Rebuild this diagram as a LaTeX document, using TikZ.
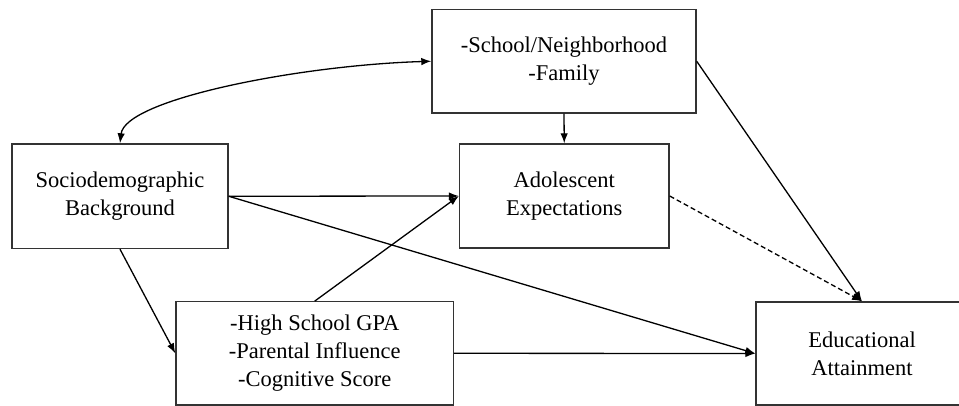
\documentclass[tikz,border=0pt]{standalone}
\usepackage{fontspec}
\setmainfont{Liberation Serif}
\usetikzlibrary{arrows.meta}
\begin{document}
\begin{tikzpicture}[x=1pt,y=-1pt,
  box/.style={draw=black!80, line width=1.4pt, rectangle, inner sep=0pt, align=center,
    font=\fontsize{22.5}{28}\selectfont},
  conn/.style={line width=1.3pt, -{Latex[length=10pt,width=7.5pt]}},
  dconn/.style={conn, dash pattern=on 5pt off 3pt}]
\clip (0,0) rectangle (959,406);
\node[box, minimum width=264pt, minimum height=103.5pt] (top) at (564,61.25) {-School/Neighborhood\\-Family};
\node[box, minimum width=216pt, minimum height=104.5pt] (soc) at (120,196.25) {Sociodemographic\\Background};
\node[box, minimum width=209.5pt, minimum height=104pt] (adol) at (564.25,196) {Adolescent\\Expectations};
\node[box, minimum width=277.5pt, minimum height=103pt] (hs) at (314.75,353.3) {-High School GPA\\-Parental Influence\\-Cognitive Score};
\node[box, minimum width=212pt, minimum height=103pt] (edu) at (862,353.5) {Educational\\Attainment};
\draw[line width=1.3pt, {Latex[length=10pt,width=7.5pt]}-{Latex[length=10pt,width=7.5pt]}]
  (top.west) .. controls +(-132,4) and +(5,-44) .. (soc.north);
\draw[conn] (top.south) -- (adol.north);
\draw[conn] (soc.east) -- (adol.west);
\draw[conn] (hs.north) -- (adol.west);
\draw[conn] (soc.east) -- (edu.west);
\draw[conn] (hs.east) -- (edu.west);
\draw[conn] (top.east) -- (edu.north);
\draw[dconn] (adol.east) -- (edu.north);
\draw[conn] (soc.south) -- (hs.west);
\end{tikzpicture}
\end{document}
